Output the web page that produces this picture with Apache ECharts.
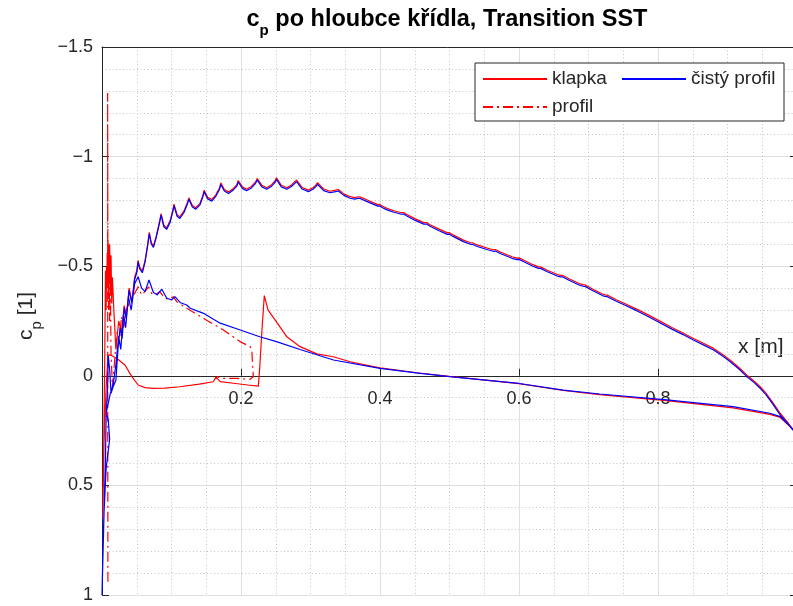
<!DOCTYPE html>
<html>
<head>
<meta charset="utf-8">
<script src="https://cdn.jsdelivr.net/npm/echarts@6/dist/echarts.min.js"></script>
<style>
  html, body { margin: 0; padding: 0; background: #ffffff; }
  #chart { width: 793px; height: 606px; }
</style>
</head>
<body>
<div id="chart"></div>
<script>
// ---------- text ----------
const FONT = '"Liberation Sans", Arial, Helvetica, sans-serif';
const titleMain = 'c';
const titleSub = 'p';
const titleRest = ' po hloubce křídla, Transition SST';
const yLabelMain = 'c';
const yLabelSub = 'p';
const yLabelRest = ' [1]';
const xLabel = 'x [m]';
const seriesNames = ['klapka', 'čistý profil', 'profil'];

// axis ranges and tick labels (x axis: 0 and 1 are not labelled)
const xRange = [0, 1];
const yRange = [-1.5, 1];
const xTickLabels = ['', '0.2', '0.4', '0.6', '0.8', ''];
const yTickLabels = ['\u22121.5', '\u22121', '\u22120.5', '0', '0.5', '1'];

// ---------- data: [x (m), cp] ----------
// clean profile, upper surface, leading edge -> trailing edge
const cistyHorni = [
  [0,1.0],[0.001,0.85],[0.003,0.6],[0.005,0.38],[0.006,0.17],[0.008,0.06],[0.009,-0.09],[0.011,-0.03],
  [0.013,0.08],[0.016,0.05],[0.02,0.02],[0.023,-0.12],[0.026,-0.22],[0.029,-0.17],[0.032,-0.31],
  [0.035,-0.26],[0.039,-0.39],[0.043,-0.33],[0.047,-0.44],[0.05,-0.47],
  [0.052,-0.52],[0.054,-0.49],[0.058,-0.47],[0.062,-0.52],[0.066,-0.6],
  [0.068,-0.647],[0.071,-0.6],[0.074,-0.586],[0.078,-0.63],[0.083,-0.7],
  [0.085,-0.733],[0.089,-0.68],[0.093,-0.668],[0.098,-0.7],[0.102,-0.75],
  [0.1036,-0.776],[0.108,-0.728],[0.112,-0.718],[0.118,-0.745],[0.123,-0.785],
  [0.125,-0.805],[0.13,-0.77],[0.135,-0.76],[0.141,-0.78],[0.145,-0.815],
  [0.147,-0.84],[0.152,-0.807],[0.158,-0.797],[0.164,-0.82],[0.169,-0.85],
  [0.171,-0.873],[0.176,-0.843],[0.182,-0.832],[0.188,-0.845],[0.194,-0.865],
  [0.196,-0.884],[0.202,-0.855],[0.208,-0.844],[0.215,-0.857],[0.221,-0.878],
  [0.2235,-0.893],[0.23,-0.862],[0.237,-0.851],[0.244,-0.865],[0.249,-0.882],
  [0.251,-0.896],[0.258,-0.862],[0.266,-0.851],[0.273,-0.865],[0.278,-0.877],
  [0.28,-0.886],[0.288,-0.852],[0.297,-0.84],[0.304,-0.852],[0.308,-0.864],
  [0.31,-0.874],[0.319,-0.845],[0.328,-0.835],[0.336,-0.84],
  [0.34,-0.843],[0.348,-0.823],[0.357,-0.81],[0.364,-0.806],[0.369,-0.81],[0.372,-0.808],
  [0.38,-0.797],[0.39,-0.783],[0.397,-0.774],[0.4,-0.775],[0.403,-0.768],[0.41,-0.757],
  [0.42,-0.746],[0.431,-0.737],[0.434,-0.738],[0.438,-0.73],[0.45,-0.71],[0.463,-0.692],
  [0.467,-0.692],[0.472,-0.682],[0.485,-0.662],[0.497,-0.645],[0.5,-0.646],[0.505,-0.636],
  [0.52,-0.612],[0.53,-0.6],[0.533,-0.6],[0.54,-0.59],[0.555,-0.575],[0.563,-0.568],
  [0.566,-0.569],[0.573,-0.558],[0.59,-0.536],[0.597,-0.53],[0.6,-0.531],[0.607,-0.52],
  [0.62,-0.5],[0.628,-0.49],[0.631,-0.49],[0.64,-0.476],[0.655,-0.455],[0.66,-0.451],
  [0.663,-0.451],[0.672,-0.436],[0.688,-0.412],[0.692,-0.409],[0.695,-0.408],[0.705,-0.39],
  [0.72,-0.366],[0.724,-0.362],[0.727,-0.361],[0.74,-0.34],[0.752,-0.323],[0.77,-0.296],
  [0.785,-0.272],[0.8,-0.247],[0.82,-0.213],[0.836,-0.188],[0.851,-0.163],[0.866,-0.14],
  [0.88,-0.118],[0.893,-0.09],[0.904,-0.064],[0.916,-0.032],[0.928,0.004],[0.938,0.03],
  [0.947,0.057],[0.955,0.085],[0.965,0.128],[0.976,0.179],[0.986,0.215],[0.994,0.247],[1.0,0.262]
];
// clean profile, lower surface, leading edge -> trailing edge
const cistyDolni = [
  [0,1.0],[0.003,0.62],[0.006,0.42],[0.011,0.29],[0.009,0.2],[0.006,0.17],[0.012,0.08],
  [0.016,0.04],[0.02,-0.05],[0.024,-0.18],[0.027,-0.12],[0.031,-0.28],[0.034,-0.22],
  [0.038,-0.36],[0.042,-0.3],[0.047,-0.42],[0.052,-0.452],[0.057,-0.4],[0.062,-0.384],
  [0.0676,-0.437],[0.074,-0.38],[0.0796,-0.369],[0.086,-0.395],[0.093,-0.355],[0.1,-0.346],
  [0.105,-0.361],[0.113,-0.333],[0.122,-0.323],[0.127,-0.308],[0.146,-0.285],[0.17,-0.24],
  [0.199,-0.209],[0.227,-0.178],[0.251,-0.156],[0.285,-0.12],[0.333,-0.072],[0.4,-0.034],
  [0.458,-0.011],[0.5,0.004],[0.6,0.035],[0.664,0.065],[0.716,0.083],[0.8125,0.11],
  [0.908,0.141],[0.961,0.171],[0.976,0.186],[1.0,0.262]
];

// flap configuration, upper surface, leading edge -> trailing edge
const klapkaHorni = [
  [0.047,-0.45],[0.05,-0.48],[0.052,-0.527],[0.054,-0.497],[0.058,-0.477],[0.062,-0.527],
  [0.066,-0.607],[0.068,-0.654],[0.071,-0.607],[0.074,-0.593],[0.078,-0.637],[0.083,-0.707],
  [0.085,-0.74],[0.089,-0.687],[0.093,-0.675],[0.098,-0.707],[0.102,-0.757],[0.1036,-0.783],
  [0.108,-0.735],[0.112,-0.725],[0.118,-0.752],[0.123,-0.792],[0.125,-0.812],[0.13,-0.777],
  [0.135,-0.767],[0.141,-0.787],[0.145,-0.822],[0.147,-0.847],[0.152,-0.814],[0.158,-0.804],
  [0.164,-0.827],[0.169,-0.857],[0.171,-0.88],[0.176,-0.85],[0.182,-0.839],[0.188,-0.852],
  [0.194,-0.872],[0.196,-0.891],[0.202,-0.862],[0.208,-0.851],[0.215,-0.864],[0.221,-0.885],
  [0.2235,-0.9],[0.23,-0.869],[0.237,-0.858],[0.244,-0.872],[0.249,-0.889],[0.251,-0.903],
  [0.258,-0.869],[0.266,-0.858],[0.273,-0.872],[0.278,-0.884],[0.28,-0.893],[0.288,-0.859],
  [0.297,-0.847],[0.304,-0.859],[0.308,-0.871],[0.31,-0.881],[0.319,-0.852],[0.328,-0.842],
  [0.336,-0.847],[0.34,-0.85],[0.348,-0.83],[0.357,-0.817],[0.364,-0.813],[0.369,-0.817],
  [0.372,-0.815],[0.38,-0.804],[0.39,-0.79],[0.397,-0.781],[0.4,-0.782],[0.403,-0.775],
  [0.41,-0.764],[0.42,-0.753],[0.431,-0.744],[0.434,-0.745],[0.438,-0.737],[0.45,-0.717],
  [0.463,-0.699],[0.467,-0.699],[0.472,-0.689],[0.485,-0.669],[0.497,-0.652],[0.5,-0.653],
  [0.505,-0.643],[0.52,-0.619],[0.53,-0.607],[0.533,-0.607],[0.54,-0.597],[0.555,-0.582],
  [0.563,-0.575],[0.566,-0.576],[0.573,-0.565],[0.59,-0.543],[0.597,-0.537],[0.6,-0.538],
  [0.607,-0.527],[0.62,-0.507],[0.628,-0.497],[0.631,-0.497],[0.64,-0.483],[0.655,-0.462],
  [0.66,-0.458],[0.663,-0.458],[0.672,-0.443],[0.688,-0.419],[0.692,-0.416],[0.695,-0.415],
  [0.705,-0.397],[0.72,-0.373],[0.724,-0.369],[0.727,-0.368],[0.74,-0.347],[0.752,-0.33],
  [0.77,-0.303],[0.785,-0.279],[0.8,-0.254],[0.82,-0.22],[0.836,-0.195],[0.851,-0.17],
  [0.866,-0.147],[0.88,-0.125],[0.893,-0.097],[0.904,-0.071],[0.916,-0.039],[0.928,-0.003],
  [0.938,0.024],[0.947,0.05],[0.955,0.078],[0.965,0.121],[0.976,0.172],[0.986,0.21],
  [0.994,0.244],[1.0,0.262]
];
// flap configuration, leading-edge region (from upper surface round to lower surface)
const klapkaNabezna = [
  [0.043,-0.34],[0.039,-0.4],[0.035,-0.27],[0.032,-0.32],[0.028,-0.2],[0.024,-0.25],
  [0.02,-0.12],[0.017,-0.3],[0.015,-0.45],[0.014,-0.33],[0.013,-0.55],[0.012,-0.38],
  [0.011,-0.6],[0.0105,-0.42],[0.01,-0.58],[0.009,-0.35],[0.0085,-0.62],[0.008,-0.45],
  [0.0075,-0.56],[0.007,-0.4],[0.0065,-0.5],[0.006,-0.3],[0.005,-0.48],[0.004,-0.1],
  [0.002,0.45],[0.001,0.65],[0.003,0.3],[0.006,0.05],[0.0086,-0.094]
];
// flap configuration, lower surface
const klapkaDolni = [
  [0.012,-0.095],[0.021,-0.08],[0.033,-0.049],[0.043,0.004],[0.052,0.042],[0.062,0.054],
  [0.074,0.057],[0.09,0.056],[0.112,0.05],[0.14,0.038],[0.16,0.027],[0.164,0.006],
  [0.17,0.027],[0.189,0.034],[0.21,0.042],[0.225,0.047],[0.227,-0.04],[0.23,-0.2],
  [0.2335,-0.366],[0.239,-0.3],[0.249,-0.255],[0.266,-0.178],[0.285,-0.133],[0.309,-0.1],
  [0.333,-0.087],[0.357,-0.064],[0.4,-0.036],[0.453,-0.014],[0.5,0.003],[0.6,0.036],
  [0.664,0.067],[0.716,0.086],[0.8125,0.113],[0.908,0.146],[0.961,0.176],[0.976,0.19],[1.0,0.262]
];

// profile with cavity: leading-edge region and lower surface
const profilNabezna = [
  [0.0085,0.94],[0.0083,0.3],[0.0082,-0.5],[0.0081,-1.29],[0.0083,-0.7],[0.0082,-1.1],
  [0.0085,-0.45],[0.009,-0.6],[0.0095,-0.3],[0.01,-0.55],[0.011,-0.25],[0.012,-0.45],
  [0.013,-0.1],[0.015,0.05],[0.016,0.05],[0.019,-0.1],[0.022,-0.2],[0.025,-0.15],
  [0.028,-0.27],[0.031,-0.22],[0.035,-0.3],[0.04,-0.338]
];
const profilDolni = [
  [0.046,-0.37],[0.052,-0.406],[0.057,-0.369],[0.062,-0.385],[0.067,-0.406],[0.0715,-0.376],
  [0.077,-0.37],[0.083,-0.384],[0.0906,-0.353],[0.097,-0.35],[0.1026,-0.361],[0.1075,-0.338],
  [0.122,-0.308],[0.15,-0.255],[0.1746,-0.209],[0.1986,-0.156],[0.213,-0.133],[0.2155,-0.118],
  [0.2177,0.004],[0.213,0.016],[0.194,0.012],[0.175,0.012],[0.165,0.004]
];

// closed outlines drawn as one polyline each
const cistyPath = cistyHorni.slice().reverse().concat(cistyDolni);
const klapkaPath = klapkaHorni.slice().reverse().concat(klapkaNabezna, klapkaDolni);
const profilPath = profilNabezna.concat(profilDolni);

// ---------- layout ----------
const GRID = { left: 102, top: 47, width: 695, height: 548 };
// the x axis runs through cp = 0: shift it up from the bottom edge of the (inverted) plot
const xAxisOffset = -GRID.height * (yRange[1] - 0) / (yRange[1] - yRange[0]);

const measureCtx = document.createElement('canvas').getContext('2d');
function textWidth(text, size, weight) {
  measureCtx.font = weight + ' ' + size + 'px ' + FONT;
  return measureCtx.measureText(text).width;
}
// text piece placed by its baseline
function baselineText(text, x, baselineY, size, weight, color) {
  return {
    type: 'text', x: x, y: baselineY - 0.33 * size,
    style: { text: text, fontSize: size, fontWeight: weight, fontFamily: FONT,
             fill: color, align: 'left', verticalAlign: 'middle' }
  };
}
// "main" + subscript + "rest", centred on local x = 0, baseline at local y = 0
function subscriptLabel(main, sub, rest, size, subSize, subDrop, weight, color) {
  const w1 = textWidth(main, size, weight);
  const w2 = textWidth(sub, subSize, weight);
  const w3 = textWidth(rest, size, weight);
  const x0 = -(w1 + w2 + w3) / 2;
  return [
    baselineText(main, x0, 0, size, weight, color),
    baselineText(sub, x0 + w1, subDrop, subSize, weight, color),
    baselineText(rest, x0 + w1 + w2, 0, size, weight, color)
  ];
}

const AXIS_COLOR = '#262626';
const NO_FILL = 'rgba(0,0,0,0)';
const chart = echarts.init(document.getElementById('chart'), null, { renderer: 'canvas' });

const option = {
  animation: false,
  backgroundColor: '#ffffff',
  grid: Object.assign({ containLabel: false, outerBoundsMode: 'none' }, GRID),
  xAxis: [{
    type: 'value', min: xRange[0], max: xRange[1], interval: 0.2,
    position: 'bottom', offset: xAxisOffset,
    axisLine: { show: true, onZero: false, lineStyle: { color: AXIS_COLOR, width: 1 } },
    axisTick: { show: true, inside: true, length: 7, lineStyle: { color: AXIS_COLOR } },
    axisLabel: { margin: 14, fontSize: 18, fontFamily: FONT, color: AXIS_COLOR,
                 formatter: (v) => xTickLabels[Math.round(v / 0.2)] },
    splitLine: { show: true, lineStyle: { color: '#dfdfdf', width: 1 } },
    minorTick: { show: false, splitNumber: 4 },
    minorSplitLine: { show: true, lineStyle: { color: '#c4c4c4', width: 1, type: [1, 2.5] } }
  }, {
    type: 'value', position: 'top', min: xRange[0], max: xRange[1], interval: 0.2,
    axisLine: { show: true, onZero: false, lineStyle: { color: AXIS_COLOR, width: 1 } },
    axisTick: { show: false }, axisLabel: { show: false }, splitLine: { show: false }
  }],
  yAxis: [{
    type: 'value', inverse: true, min: yRange[0], max: yRange[1], interval: 0.5,
    axisLine: { show: true, onZero: false, lineStyle: { color: AXIS_COLOR, width: 1 } },
    axisTick: { show: true, inside: true, length: 7, lineStyle: { color: AXIS_COLOR } },
    axisLabel: { margin: 9, fontSize: 18, fontFamily: FONT, color: AXIS_COLOR,
                 formatter: (v) => yTickLabels[Math.round((v - yRange[0]) / 0.5)] },
    splitLine: { show: true, lineStyle: { color: '#dfdfdf', width: 1 } },
    minorTick: { show: false, splitNumber: 5 },
    minorSplitLine: { show: true, lineStyle: { color: '#c4c4c4', width: 1, type: [1, 2.5] } }
  }, {
    type: 'value', position: 'right', inverse: true, min: yRange[0], max: yRange[1], interval: 0.5,
    axisLine: { show: true, onZero: false, lineStyle: { color: AXIS_COLOR, width: 1 } },
    axisTick: { show: true, inside: true, length: 7, lineStyle: { color: AXIS_COLOR } },
    axisLabel: { show: false }, splitLine: { show: false }
  }],
  legend: {
    data: [
      { name: seriesNames[0], textStyle: { width: 61 } },
      { name: seriesNames[1], textStyle: { width: 86 } },
      { name: seriesNames[2] }
    ],
    orient: 'horizontal', left: 475, top: 63, width: 296,
    padding: [6, 7, 4, 7], itemGap: 8, itemWidth: 64, itemHeight: 20,
    backgroundColor: '#ffffff', borderColor: AXIS_COLOR, borderWidth: 1, borderRadius: 0,
    itemStyle: { color: NO_FILL, borderColor: NO_FILL, borderWidth: 0, opacity: 0 },
    textStyle: { fontSize: 19, fontFamily: FONT, color: AXIS_COLOR, lineHeight: 20 }
  },
  series: [
    { name: seriesNames[0], type: 'line', data: klapkaPath, symbol: 'none', showSymbol: false,
      lineStyle: { color: '#ff0000', width: 1.2 }, itemStyle: { color: '#ff0000' }, z: 2 },
    { name: seriesNames[2], type: 'line', data: profilPath, symbol: 'none', showSymbol: false,
      lineStyle: { color: '#ff0000', width: 1.2, type: [10, 4, 2, 4] }, itemStyle: { color: '#ff0000' }, z: 3 },
    { name: seriesNames[1], type: 'line', data: cistyPath, symbol: 'none', showSymbol: false,
      lineStyle: { color: '#0000ff', width: 1.2 }, itemStyle: { color: '#0000ff' }, z: 4 }
  ],
  graphic: [
    { type: 'group', x: 447, y: 27,
      children: subscriptLabel(titleMain, titleSub, titleRest, 23.5, 15, 9, 'bold', '#000000') },
    { type: 'group', x: 33, y: 316, rotation: Math.PI / 2,
      children: subscriptLabel(yLabelMain, yLabelSub, yLabelRest, 21, 15, 9, 'normal', AXIS_COLOR) },
    baselineText(xLabel, 738, 354.5, 21, 'normal', AXIS_COLOR)
  ]
};
chart.setOption(option);
</script>
</body>
</html>
